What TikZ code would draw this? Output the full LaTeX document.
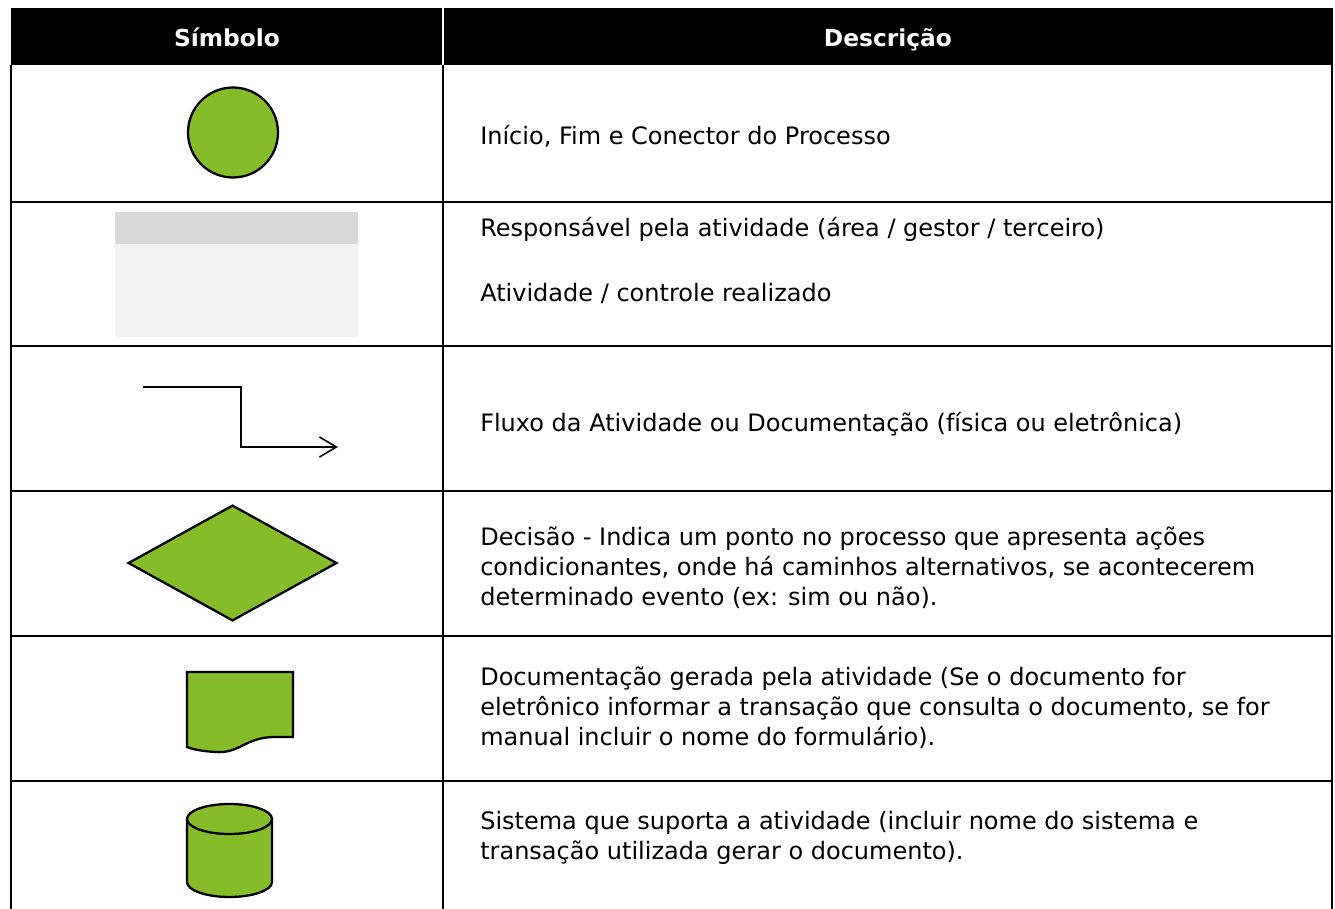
\documentclass[tikz,border=0pt]{standalone}
\usepackage{fontspec}
\setmainfont{DejaVu Sans}
\usepackage{tikz}
\usetikzlibrary{shapes,arrows.meta,positioning}
\definecolor{symgreen}{HTML}{86BC29}
\definecolor{laneband}{HTML}{D9D9D9}
\definecolor{lanebody}{HTML}{F2F2F2}
\def\descp#1#2#3{\node [desc] (#1) at (480,#2) {#3}}
\tikzstyle{rule}=[line width=2pt]
\tikzstyle{head}=[anchor=base,text=white,font=\bfseries\fontsize{17.5}{20}\selectfont]
\tikzstyle{desc}=[anchor=base west,align=left,inner sep=0pt,font=\fontsize{18}{22.2}\selectfont]
\tikzstyle{symbol}=[draw,line width=1.7pt,fill=symgreen]
\tikzstyle{flow}=[line width=1.2pt,-{Straight Barb[length=12.75pt,width=15pt]}]

\begin{document}
\begin{tikzpicture}[x=0.75pt,y=-0.75pt]
    \useasboundingbox (0,0) rectangle (1335,909);
    % header
    \fill (11,8) rectangle (442,65);
    \fill (444,8) rectangle (1333,65);
    \node [head] (hsym) at (227,47) {Símbolo};
    \node [head] (hdesc) at (888,47) {Descrição};
    % grid
    \foreach \y in {202,346,491,636,781} \draw [rule] (11,\y) -- (1332,\y);
    \foreach \x in {11,443,1332} \draw [rule] (\x,65) -- (\x,909);
    % symbols
    \node [symbol,circle,minimum size=67.5pt,inner sep=0pt] (start) at (233,132.5) {};
    \fill [laneband] (115,212) rectangle (358,244);
    \fill [lanebody] (115,244) rectangle (358,337);
    \coordinate (flowin) at (143,387);
    \coordinate (flowbend) at (241,417);
    \coordinate (flowout) at (338,447);
    \draw [flow] (flowin) -| (flowbend) |- (flowout);
    \node [symbol,diamond,inner sep=0pt,minimum width=156.6pt,minimum height=86.8pt] (decision) at (232.5,563) {};
    \draw [symbol] (187,672) -- (293,672) -- (293,737) -- (275,737)
        .. controls (245,737) and (240,754) .. (215,752)
        .. controls (200,751) and (192,749) .. (187,747) -- cycle;
    \draw [symbol] (187,819) -- (187,882) arc [start angle=180,end angle=0,x radius=42.5,y radius=15] -- (272,819) -- cycle;
    \draw [symbol] (229.5,819) ellipse [x radius=42.5,y radius=15];
    % descriptions (base = last line)
    \descp{dstart}{145}{Início, Fim e Conector do Processo};
    \descp{dlane}{237}{Responsável pela atividade (área / gestor / terceiro)};
    \descp{dtask}{301}{Atividade / controle realizado};
    \descp{dflow}{431}{Fluxo da Atividade ou Documentação (física ou eletrônica)};
    \descp{ddecision}{605}{Decisão - Indica um ponto no processo que apresenta ações\\condicionantes, onde há caminhos alternativos, se acontecerem\\determinado evento (ex: sim ou não).};
    \descp{ddoc}{745}{Documentação gerada pela atividade (Se o documento for\\eletrônico informar a transação que consulta o documento, se for\\manual incluir o nome do formulário).};
    \descp{dsystem}{859}{Sistema que suporta a atividade (incluir nome do sistema e\\transação utilizada gerar o documento).};
\end{tikzpicture}
\end{document}
